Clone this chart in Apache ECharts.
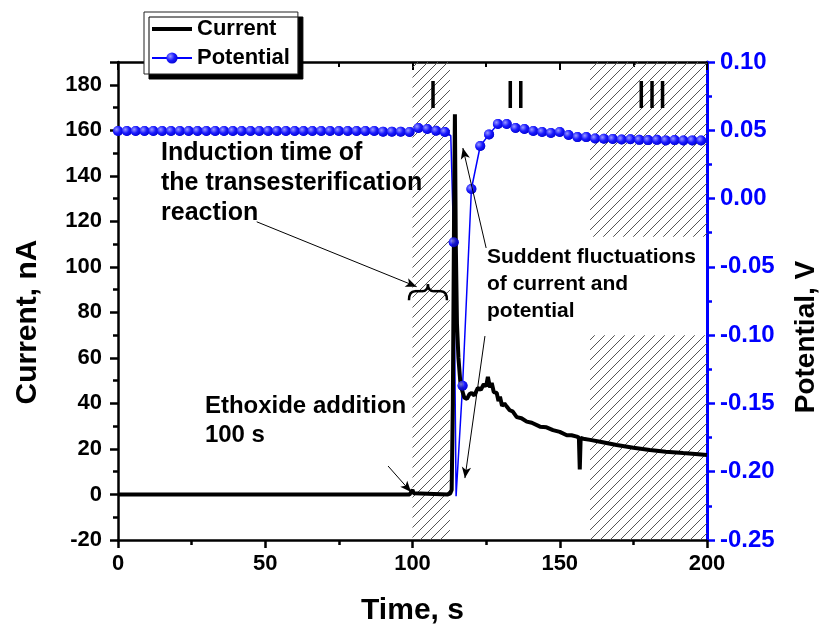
<!DOCTYPE html>
<html>
<head>
<meta charset="utf-8">
<script src="https://cdn.jsdelivr.net/npm/echarts@6/dist/echarts.min.js"></script>
<style>
html,body{margin:0;padding:0;background:#fff;}
#chart{width:819px;height:632px;}
</style>
</head>
<body>
<div id="chart"></div>
<script>
// ---- data ----
const currentData = [
  [0,0],[50,0],[99,0],[99.6,0.5],[100,2],[100.4,0.5],[101,0],[112,0],[112.8,0.5],[113.3,2],
  [113.7,40],[114.1,120],[114.4,167],[114.7,110],[115.1,75],[115.6,60],[116.2,50],[116.8,46],
  [117.6,42.5],[118.5,42],[119.3,44],[120.1,44.6],[121,43.5],[122.2,46.8],[123.2,46],[124.2,48.5],
  [125,47.5],[125.6,51.7],[126.3,47],[126.9,49],[127.6,45],[128.6,44.6],[129.2,41],[129.7,43],
  [130.4,39],[131.2,40],[132,38.6],[133,37],[134,36.5],[135.4,34],[137,33.5],[138.8,32],
  [140.5,31.5],[143.3,29.8],[145.5,29.5],[147.7,28.3],[150,27.5],[152.4,26],[154,26],[155.8,25.4],
  [156.5,25],[156.8,11],[157.1,24.8],[158,24.5],[160.3,24],[163.7,23.2],[169.3,21.7],[175,20.5],
  [180.6,19.5],[186,18.8],[191.9,18.2],[196,17.8],[200,17.3]
];
const potentialDots = [
  [0,0.0495],[3,0.0495],[6,0.0495],[9,0.0495],[12,0.0495],[15,0.0495],[18,0.0495],[21,0.0495],
  [24,0.0495],[27,0.0495],[30,0.0495],[33,0.0495],[36,0.0495],[39,0.0495],[42,0.0495],[45,0.0495],
  [48,0.0495],[51,0.0495],[54,0.0495],[57,0.0495],[60,0.0495],[63,0.0495],[66,0.0495],[69,0.0495],
  [72,0.0495],[75,0.0495],[78,0.0495],[81,0.0495],[84,0.0495],[87,0.0495],[90,0.049],[93,0.049],
  [96,0.049],[99,0.0488],[102,0.0517],[105,0.051],[108,0.0497],[111,0.0488],[114,-0.032],
  [117,-0.137],[120,0.007],[123,0.0385],[126,0.047],[129,0.0546],[132,0.0546],[135,0.0517],
  [138,0.051],[141,0.0495],[144,0.0488],[147,0.048],[150,0.0488],[153,0.0466],[156,0.045],
  [159,0.045],[162,0.044],[165,0.0438],[168,0.0436],[171,0.0432],[174,0.0434],[177,0.043],
  [180,0.0428],[183,0.043],[186,0.0426],[189,0.0428],[192,0.0425],[195,0.0426],[198,0.0425]
];
// points on the potential trace that carry no symbol
const potentialLineOnly = [[113,0.046],[114.8,-0.218]];
const xTicks = {min:0, max:200, interval:50};
const currentTicks = {min:-20, max:190, interval:20};
const potentialTicks = {min:-0.25, max:0.1, interval:0.05};
// hatched regions: [tStart, tEnd, vLow, vHigh] on the potential axis
const hatchZones = [
  [100, 112.7, -0.25, 0.1],
  [160.3, 200, -0.028, 0.1],
  [160.3, 200, -0.25, -0.1]
];
// arrows in (time, current) coordinates
const arrows = [
  [[47.1,119.8],[101.4,91.3]],
  [[125,108.3],[117.1,152.2]],
  [[124.6,69.6],[117.8,7.2]],
  [[91.7,12.5],[99.5,1.1]]
];
const annotations = [
  {text:'Induction time of\nthe transesterification\nreaction', t:14.6, c:156.5, size:25, lh:30},
  {text:'Suddent fluctuations\nof current and\npotential', t:125.3, c:110, size:21, lh:27},
  {text:'Ethoxide addition\n100 s', t:29.5, c:45, size:24, lh:29}
];
const zoneLabels = [
  {text:'I', t:107, c:174.5},
  {text:'II', t:135, c:174.5},
  {text:'III', t:181.3, c:174.5}
];
const braceSpan = {t0:98.8, t1:111.7, c:88};

// ---- chart ----
const FONT = 'Liberation Sans, Arial, sans-serif';
const hatch = document.createElement('canvas');
hatch.width = 10; hatch.height = 10;
(function(){
  const g = hatch.getContext('2d');
  g.strokeStyle = '#555'; g.lineWidth = 1;
  g.beginPath();
  g.moveTo(0,10); g.lineTo(10,0);
  g.moveTo(-1,1); g.lineTo(1,-1);
  g.moveTo(9,11); g.lineTo(11,9);
  g.stroke();
})();

const lineData = potentialDots.map(p => ({value:p}))
  .concat(potentialLineOnly.map(p => ({value:p, symbol:'none'})))
  .sort((a,b) => a.value[0]-b.value[0]);

const dotColor = {type:'radial', x:0.35, y:0.35, r:0.75,
  colorStops:[{offset:0,color:'#9999ff'},{offset:0.5,color:'#1a1aff'},{offset:1,color:'#0000cc'}]};

const chart = echarts.init(document.getElementById('chart'));
const axisFont = {fontFamily:FONT, fontWeight:'bold', fontSize:22, color:'#000'};

chart.setOption({
  animation:false,
  backgroundColor:'#fff',
  grid:{left:118, right:112, top:62, bottom:92, containLabel:false},
  legend:{
    data:[
      {name:'Current', itemStyle:{opacity:0}, lineStyle:{width:4, color:'#000'}},
      {name:'Potential'}
    ],
    orient:'vertical', left:144, top:12,
    itemWidth:40, itemHeight:14, itemGap:7, padding:[6,8,5,6],
    backgroundColor:'#fff', borderColor:'#222', borderWidth:1,
    shadowColor:'#000', shadowOffsetX:5, shadowOffsetY:5, shadowBlur:0,
    textStyle:{fontFamily:FONT, fontWeight:'bold', fontSize:22, color:'#000'}
  },
  xAxis:[
    {type:'value', min:xTicks.min, max:xTicks.max, interval:xTicks.interval, position:'bottom',
     axisLine:{onZero:false, lineStyle:{color:'#000', width:2.5}},
     axisTick:{inside:false, length:8, lineStyle:{width:2.5, color:'#000'}},
     minorTick:{show:true, splitNumber:2, length:5, lineStyle:{width:2.5, color:'#000'}},
     splitLine:{show:false}, minorSplitLine:{show:false},
     axisLabel:Object.assign({margin:13}, axisFont)},
    {type:'value', min:xTicks.min, max:xTicks.max, interval:xTicks.interval, position:'top',
     axisLine:{onZero:false, lineStyle:{color:'#000', width:2.5}},
     axisTick:{inside:true, length:8, lineStyle:{width:2, color:'#000'}},
     minorTick:{show:true, splitNumber:2, length:5, lineStyle:{width:2, color:'#000'}},
     axisLabel:{show:false}, splitLine:{show:false}}
  ],
  yAxis:[
    {type:'value', min:currentTicks.min, max:currentTicks.max, interval:currentTicks.interval, position:'left',
     axisLine:{show:true, onZero:false, lineStyle:{color:'#000', width:2.5}},
     axisTick:{show:true, inside:false, length:8, lineStyle:{width:2.5, color:'#000'}},
     minorTick:{show:true, splitNumber:2, length:5, lineStyle:{width:2.5, color:'#000'}},
     splitLine:{show:false},
     axisLabel:Object.assign({margin:16, formatter:v => (v % 20 === 0 ? String(v) : '')}, axisFont)},
    {type:'value', min:potentialTicks.min, max:potentialTicks.max, interval:potentialTicks.interval, position:'right',
     axisLine:{show:true, onZero:false, lineStyle:{color:'#0000ff', width:3}},
     axisTick:{show:true, inside:false, length:8, lineStyle:{width:2.5, color:'#0000ff'}},
     minorTick:{show:true, splitNumber:2, length:5, lineStyle:{width:2.5, color:'#0000ff'}},
     splitLine:{show:false},
     axisLabel:{margin:13, fontFamily:FONT, fontWeight:'bold', fontSize:24, color:'#0000ff',
       formatter:v => v.toFixed(2)}}
  ],
  series:[
    {name:'Potential', type:'line', xAxisIndex:0, yAxisIndex:1, z:1,
     data:lineData, symbol:'circle', symbolSize:10, showSymbol:true,
     lineStyle:{color:'#0000ff', width:1.5}, itemStyle:{color:dotColor},
     markArea:{silent:true, itemStyle:{color:{image:hatch, repeat:'repeat'}},
       data:hatchZones.map(z => [{xAxis:z[0], yAxis:z[2]},{xAxis:z[1], yAxis:z[3]}])}},
    {name:'Current', type:'line', xAxisIndex:0, yAxisIndex:0, z:2,
     data:currentData, showSymbol:false, symbol:'none',
     lineStyle:{color:'#000', width:4}, itemStyle:{color:'#000'},
     markLine:{silent:true, symbol:['none','arrow'], symbolSize:[7,11],
       lineStyle:{color:'#000', width:1, type:'solid'}, label:{show:false},
       data:arrows.map(a => [{coord:a[0]},{coord:a[1]}])}},
    {name:'PotentialDots', type:'scatter', xAxisIndex:0, yAxisIndex:1, z:3,
     data:potentialDots, symbol:'circle', symbolSize:10, itemStyle:{color:dotColor}}
  ]
});

function px(t, c){ return chart.convertToPixel({xAxisIndex:0, yAxisIndex:0}, [t, c]); }
const g = [];
annotations.forEach(a => {
  const p = px(a.t, a.c);
  g.push({type:'text', x:p[0], y:p[1], z:10,
    style:{text:a.text, fontFamily:FONT, fontWeight:'bold', fontSize:a.size, lineHeight:a.lh,
      fill:'#000', textAlign:'left', textVerticalAlign:'top'}});
});
zoneLabels.forEach(a => {
  const p = px(a.t, a.c);
  g.push({type:'text', x:p[0], y:p[1], z:10,
    style:{text:a.text, fontFamily:FONT, fontWeight:'normal', fontSize:38, fill:'#000',
      textAlign:'center', textVerticalAlign:'middle'}});
});
(function(){
  const a = px(braceSpan.t0, braceSpan.c), b = px(braceSpan.t1, braceSpan.c);
  const x0 = a[0], x1 = b[0], y = a[1], xm = (x0+x1)/2;
  const yt = y-10, ym = y-3, yb = y+6;
  const st = {stroke:'#000', lineWidth:2.5, fill:null};
  const curves = [
    [x0, yb, x0, ym, x0+6, ym],
    [xm-6, ym, xm, ym, xm, yt],
    [xm, yt, xm, ym, xm+6, ym],
    [x1-6, ym, x1, ym, x1, yb]
  ];
  curves.forEach(c => g.push({type:'bezierCurve', z:10,
    shape:{x1:c[0], y1:c[1], cpx1:c[2], cpy1:c[3], x2:c[4], y2:c[5]}, style:st}));
  g.push({type:'line', z:10, shape:{x1:x0+6, y1:ym, x2:xm-6, y2:ym}, style:st});
  g.push({type:'line', z:10, shape:{x1:xm+6, y1:ym, x2:x1-6, y2:ym}, style:st});
})();
// axis titles
const gridRect = {l:118, t:62, r:707, b:540};
g.push({type:'text', x:(gridRect.l+gridRect.r)/2, y:611, z:10,
  style:{text:'Time, s', fontFamily:FONT, fontWeight:'bold', fontSize:30, fill:'#000',
    textAlign:'center', textVerticalAlign:'middle'}});
g.push({type:'text', x:28, y:322, rotation:Math.PI/2, z:10,
  style:{text:'Current, nA', fontFamily:FONT, fontWeight:'bold', fontSize:30, fill:'#000',
    textAlign:'center', textVerticalAlign:'middle'}});
g.push({type:'text', x:806, y:337, rotation:Math.PI/2, z:10,
  style:{text:'Potential, V', fontFamily:FONT, fontWeight:'bold', fontSize:28, fill:'#000',
    textAlign:'center', textVerticalAlign:'middle'}});
chart.setOption({graphic:g});
</script>
</body>
</html>
